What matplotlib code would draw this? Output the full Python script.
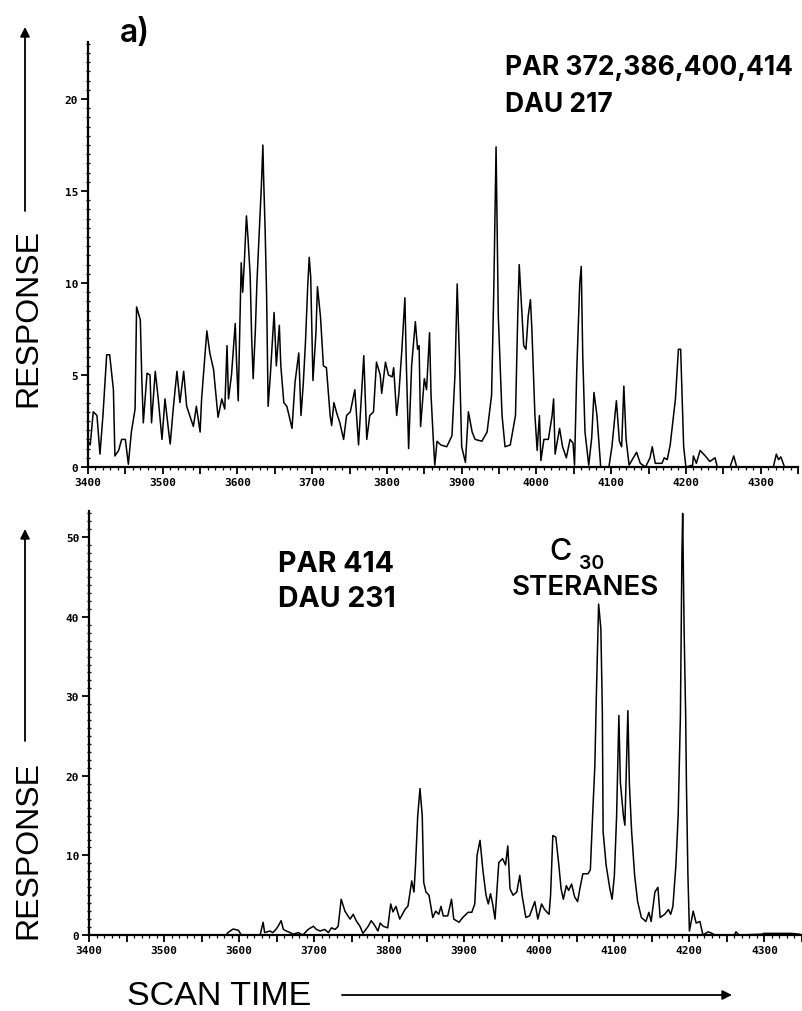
"""Two stacked chromatogram traces (parent ion scans) -> out.png."""
import matplotlib
matplotlib.use("Agg")
import matplotlib.pyplot as plt
from matplotlib.patches import FancyArrowPatch
from matplotlib.ticker import MultipleLocator, FuncFormatter

W, H = 802, 1012

# top trace: PAR 372,386,400,414 / DAU 217
top_scan = [3400, 3403, 3407, 3412, 3416, 3420, 3425, 3429, 3434, 3436, 3441, 3445, 3450, 3454,
            3458, 3463, 3465, 3470, 3472, 3474, 3479, 3483, 3485, 3490, 3494, 3499, 3503, 3508,
            3510, 3514, 3519, 3523, 3528, 3532, 3541, 3545, 3550, 3552, 3559, 3563, 3568, 3574,
            3579, 3583, 3586, 3588, 3592, 3597, 3599, 3601, 3603, 3605, 3607, 3609, 3612, 3614,
            3617, 3619, 3621, 3624, 3626, 3630, 3632, 3634, 3635, 3637, 3639, 3641, 3644, 3647,
            3649, 3652, 3656, 3658, 3662, 3666, 3669, 3673, 3677, 3682, 3685, 3688, 3691, 3694,
            3696, 3698, 3701, 3705, 3707, 3711, 3715, 3719, 3724, 3726, 3729, 3733, 3737, 3742,
            3746, 3751, 3757, 3762, 3766, 3769, 3773, 3777, 3782, 3786, 3791, 3793, 3798, 3802,
            3807, 3809, 3813, 3816, 3820, 3824, 3826, 3829, 3833, 3838, 3841, 3843, 3845, 3850,
            3853, 3857, 3859, 3862, 3864, 3867, 3872, 3880, 3887, 3891, 3894, 3897, 3900, 3905,
            3909, 3914, 3918, 3927, 3934, 3940, 3943, 3946, 3949, 3954, 3958, 3965, 3972, 3975,
            3977, 3980, 3983, 3986, 3989, 3992, 3994, 3998, 4001, 4004, 4006, 4010, 4016, 4021,
            4023, 4025, 4031, 4035, 4040, 4045, 4049, 4051, 4054, 4058, 4060, 4062, 4065, 4070,
            4074, 4077, 4081, 4084, 4086, 4097, 4101, 4107, 4111, 4114, 4117, 4120, 4124, 4134,
            4139, 4146, 4152, 4155, 4159, 4168, 4171, 4175, 4179, 4186, 4190, 4193, 4195, 4197,
            4200, 4209, 4210, 4214, 4219, 4226, 4232, 4239, 4242, 4259, 4264, 4268, 4317, 4321,
            4324, 4327, 4332, 4340]
top_resp = [1.4, 1.2, 3.0, 2.8, 0.7, 2.8, 6.1, 6.1, 4.2, 0.6, 0.9, 1.5, 1.5, 0.15,
            1.9, 3.15, 8.7, 8.0, 4.8, 2.4, 5.1, 5.0, 2.4, 5.2, 3.7, 1.5, 3.7, 1.9,
            1.25, 3.15, 5.2, 3.5, 5.2, 3.3, 2.2, 3.3, 1.9, 3.7, 7.4, 6.2, 5.3, 2.7,
            3.7, 3.15, 6.6, 3.7, 5.0, 7.8, 5.5, 3.6, 7.3, 11.1, 9.5, 11.0, 13.65, 12.5,
            10.4, 7.0, 4.8, 7.5, 10.0, 13.5, 15.3, 17.5, 15.7, 12.9, 9.3, 3.3, 5.0, 7.1,
            8.4, 5.5, 7.7, 5.5, 3.5, 3.3, 2.8, 2.1, 4.6, 6.2, 2.8, 4.5, 6.8, 9.85,
            11.4, 10.3, 4.7, 7.3, 9.8, 8.2, 5.5, 5.4, 2.8, 2.25, 3.5, 2.9, 2.4, 1.5,
            2.8, 3.0, 4.2, 1.2, 4.0, 6.05, 1.5, 2.8, 3.0, 5.7, 5.0, 4.0, 5.7, 5.0,
            4.9, 5.4, 2.8, 4.0, 6.4, 9.2, 5.5, 1.0, 5.5, 7.9, 6.4, 6.6, 2.2, 4.8,
            4.2, 7.3, 3.9, 1.5, 0.1, 1.4, 1.2, 1.1, 1.7, 5.0, 9.95, 5.9, 1.1, 0.25,
            3.0, 1.9, 1.5, 1.4, 1.9, 3.9, 9.7, 17.4, 8.2, 2.8, 1.1, 1.2, 2.8, 8.2,
            11.0, 8.8, 6.6, 6.4, 8.2, 9.1, 7.4, 2.8, 0.9, 2.8, 0.35, 1.5, 1.5, 2.8,
            3.7, 0.7, 2.1, 1.1, 0.5, 1.5, 1.3, 0.1, 5.3, 10.0, 10.9, 6.0, 1.9, 0.1,
            1.6, 4.05, 2.8, 1.1, 0.0, 0.0, 1.1, 3.6, 1.4, 1.1, 4.4, 1.5, 0.1, 0.8,
            0.2, 0.0, 0.5, 1.1, 0.2, 0.2, 0.5, 0.4, 1.2, 3.7, 6.4, 6.4, 3.7, 1.1,
            0.0, 0.1, 0.6, 0.2, 0.9, 0.6, 0.3, 0.5, 0.0, 0.0, 0.6, 0.0, 0.0, 0.7,
            0.4, 0.55, 0.0, 0.0]

# bottom trace: PAR 414 / DAU 231
bot_scan = [3400, 3583, 3585, 3592, 3599, 3603, 3628, 3632, 3634, 3641, 3645, 3649, 3652, 3656,
            3659, 3663, 3668, 3672, 3679, 3685, 3692, 3699, 3703, 3708, 3714, 3719, 3723, 3728,
            3732, 3736, 3741, 3745, 3748, 3752, 3756, 3761, 3765, 3772, 3776, 3780, 3785, 3788,
            3792, 3798, 3802, 3805, 3809, 3814, 3821, 3825, 3830, 3833, 3835, 3838, 3841, 3844,
            3846, 3849, 3853, 3858, 3862, 3866, 3869, 3872, 3878, 3883, 3886, 3893, 3898, 3905,
            3910, 3914, 3917, 3921, 3925, 3929, 3932, 3935, 3938, 3941, 3946, 3951, 3955, 3958,
            3961, 3965, 3970, 3974, 3977, 3982, 3987, 3994, 3998, 4003, 4007, 4013, 4015, 4018,
            4022, 4026, 4029, 4032, 4036, 4039, 4043, 4047, 4051, 4054, 4058, 4065, 4068, 4071,
            4074, 4076, 4079, 4082, 4084, 4085, 4089, 4094, 4097, 4100, 4103, 4106, 4108, 4112,
            4114, 4118, 4120, 4123, 4127, 4131, 4136, 4142, 4146, 4149, 4154, 4158, 4161, 4167,
            4172, 4175, 4178, 4182, 4185, 4188, 4190, 4191, 4193, 4195, 4196, 4198, 4200, 4202,
            4205, 4209, 4214, 4218, 4225, 4229, 4234, 4260, 4262, 4266, 4297, 4299, 4316, 4336,
            4347]
bot_resp = [0.0, 0.0, 0.3, 0.75, 0.6, 0.0, 0.0, 1.6, 0.3, 0.5, 0.3, 0.7, 1.1, 1.8,
            0.7, 0.5, 0.3, 0.1, 0.3, 0.0, 0.7, 1.1, 0.7, 0.5, 0.7, 0.3, 0.9, 0.7,
            1.1, 4.5, 3.0, 2.4, 2.0, 2.6, 1.8, 1.1, 0.2, 1.1, 1.8, 1.3, 0.5, 1.5,
            1.1, 0.9, 3.9, 2.9, 3.6, 2.0, 3.2, 3.65, 6.8, 5.4, 8.7, 15.0, 18.4, 15.0,
            6.6, 5.4, 5.0, 2.2, 3.0, 2.6, 3.6, 2.4, 2.4, 4.5, 2.0, 1.6, 2.2, 2.85,
            2.85, 3.9, 10.0, 11.9, 8.0, 5.0, 3.9, 5.2, 3.8, 2.0, 9.1, 9.6, 8.8, 11.2,
            5.8, 5.0, 5.4, 7.5, 5.0, 2.2, 2.4, 4.2, 2.0, 3.9, 3.2, 2.6, 5.0, 12.5,
            12.3, 8.8, 5.8, 4.5, 6.2, 5.6, 6.4, 4.8, 4.2, 5.8, 7.7, 7.7, 8.2, 15.0,
            21.3, 30.1, 41.6, 38.5, 28.0, 13.0, 8.8, 5.8, 4.5, 7.5, 15.0, 27.6, 19.2, 15.0,
            13.8, 28.2, 19.0, 13.0, 7.5, 4.2, 2.2, 1.7, 2.85, 1.7, 5.4, 6.0, 2.2, 2.6,
            3.2, 2.6, 3.6, 8.8, 15.0, 27.6, 47.9, 53.0, 37.9, 27.6, 19.0, 7.5, 0.5, 1.5,
            3.0, 1.5, 1.7, 0.0, 0.4, 0.25, 0.0, 0.0, 0.4, 0.0, 0.1, 0.2, 0.2, 0.2,
            0.1]

TICK_FONT = dict(family="DejaVu Sans Mono", weight="bold", size=8)
BOLD = "Inter"          # closest installed match to the wide Helvetica bold of the labels
PLAIN = "Liberation Sans"


def fx(px):
    return px / W


def fy(py):
    return 1 - py / H


def style_axis(ax, ymax, ymaj, ymin):
    ax.set_xlim(3400, 4350)
    ax.set_ylim(0, ymax)
    for s in ("top", "right"):
        ax.spines[s].set_visible(False)
    for s in ("left", "bottom"):
        ax.spines[s].set_linewidth(1.6)
    ax.xaxis.set_major_locator(MultipleLocator(50))
    ax.xaxis.set_minor_locator(MultipleLocator(10))
    ax.xaxis.set_major_formatter(FuncFormatter(lambda v, p: f"{int(v)}" if v % 100 == 0 else ""))
    ax.yaxis.set_major_locator(MultipleLocator(ymaj))
    ax.yaxis.set_minor_locator(MultipleLocator(ymin))
    ax.tick_params(axis="both", which="major", length=5, width=1.3, direction="out", pad=2)
    ax.tick_params(axis="y", which="minor", length=2.5, width=0.9, direction="inout")
    ax.tick_params(axis="x", which="minor", length=2.5, width=0.9, direction="out")
    for lab in ax.get_xticklabels() + ax.get_yticklabels():
        lab.set_fontfamily(TICK_FONT["family"])
        lab.set_fontweight(TICK_FONT["weight"])
        lab.set_fontsize(TICK_FONT["size"])


fig = plt.figure(figsize=(W / 100, H / 100), dpi=100)

ax1 = fig.add_axes([fx(88), fy(468), fx(798) - fx(88), (468 - 43) / H])
ax1.plot(top_scan, top_resp, color="black", lw=1.1)
style_axis(ax1, 23.1, 5, 0.5)

ax2 = fig.add_axes([fx(89), fy(936), fx(802) - fx(89), (936 - 512) / H])
ax2.plot(bot_scan, bot_resp, color="black", lw=1.1, clip_on=False)
style_axis(ax2, 53.3, 10, 1)

# panel texts
fig.text(fx(120), fy(42), "a)", fontsize=23, family=BOLD, weight="semibold", ha="left", va="baseline")
fig.text(fx(505), fy(75), "PAR 372,386,400,414", fontsize=19, family=BOLD, weight="bold",
         ha="left", va="baseline")
fig.text(fx(505), fy(112), "DAU 217", fontsize=19, family=BOLD, weight="bold",
         ha="left", va="baseline")
fig.text(fx(278), fy(572), "PAR 414", fontsize=20.5, family=BOLD, weight="bold",
         ha="left", va="baseline")
fig.text(fx(278), fy(607), "DAU 231", fontsize=20.5, family=BOLD, weight="bold",
         ha="left", va="baseline")
fig.text(fx(549), fy(560), "C", fontsize=22, family=BOLD, weight="medium", ha="left", va="baseline")
fig.text(fx(579), fy(569), "30", fontsize=14, family=BOLD, weight="semibold", ha="left", va="baseline")
fig.text(fx(512), fy(595), "STERANES", fontsize=20, family=BOLD, weight="semibold",
         ha="left", va="baseline")

# axis captions with arrows
fig.text(fx(28), fy(318), "RESPONSE", fontsize=23, family=PLAIN, rotation=90,
         ha="center", va="center")
fig.text(fx(28), fy(850), "RESPONSE", fontsize=23, family=PLAIN, rotation=90,
         ha="center", va="center")
fig.text(fx(127), fy(1005), "SCAN TIME", fontsize=24.5, family=PLAIN, ha="left", va="baseline")

arrow_kw = dict(transform=fig.transFigure, arrowstyle="-|>", mutation_scale=14,
                color="black", lw=1.3, shrinkA=0, shrinkB=0)
fig.add_artist(FancyArrowPatch((fx(25), fy(212)), (fx(25), fy(28)), **arrow_kw))
fig.add_artist(FancyArrowPatch((fx(25), fy(742)), (fx(25), fy(530)), **arrow_kw))
fig.add_artist(FancyArrowPatch((fx(342), fy(996)), (fx(732), fy(996)), **arrow_kw))

fig.savefig("out.png", dpi=100)
